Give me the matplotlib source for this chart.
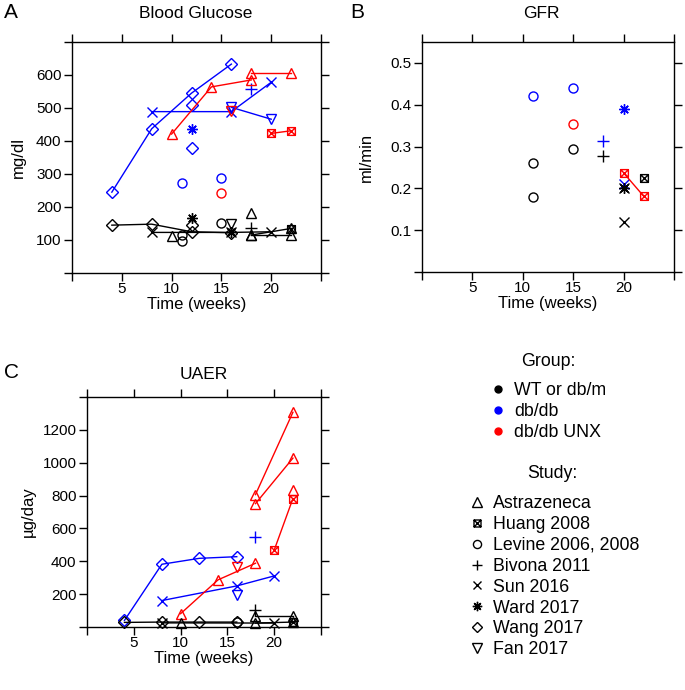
import matplotlib
matplotlib.use("Agg")
import matplotlib.pyplot as plt
from matplotlib.lines import Line2D
from matplotlib.path import Path

plt.rcParams["font.family"] = ["Liberation Sans", "DejaVu Sans"]

# boxed x marker (Huang 2008)
BOXX = Path([(-1, -1), (1, -1), (1, 1), (-1, 1), (-1, -1), (-1, -1), (1, 1), (-1, 1), (1, -1)],
            [1, 2, 2, 2, 79, 1, 2, 1, 2])

STUDIES = ["Astrazeneca", "Huang 2008", "Levine 2006, 2008", "Bivona 2011",
           "Sun 2016", "Ward 2017", "Wang 2017", "Fan 2017"]
MARKERS = {"Astrazeneca": "^", "Huang 2008": BOXX, "Levine 2006, 2008": "o",
           "Bivona 2011": "+", "Sun 2016": "x", "Ward 2017": (8, 2, 0),
           "Wang 2017": "D", "Fan 2017": "v"}
MSIZE = {"Astrazeneca": 7.5, "Huang 2008": 5.6, "Levine 2006, 2008": 6.5,
         "Bivona 2011": 8, "Sun 2016": 6.5, "Ward 2017": 7.5,
         "Wang 2017": 6.2, "Fan 2017": 7.5}
GROUPS = ["WT or db/m", "db/db", "db/db UNX"]
COLORS = {"WT or db/m": "black", "db/db": "#0000FF", "db/db UNX": "#FF0000"}

# (study, group, weeks, values) -- each tuple one line/point set
GLUCOSE = [
    ("Wang 2017", "db/db", [4, 8, 12, 16], [245, 437, 545, 633]),
    ("Wang 2017", "db/db", [12], [510]),
    ("Wang 2017", "db/db", [12], [378]),
    ("Sun 2016", "db/db", [8, 16, 20], [489, 489, 578]),
    ("Fan 2017", "db/db", [16, 20], [502, 466]),
    ("Bivona 2011", "db/db", [18], [557]),
    ("Ward 2017", "db/db", [12], [436]),
    ("Levine 2006, 2008", "db/db", [11], [272]),
    ("Levine 2006, 2008", "db/db", [15], [287]),
    ("Astrazeneca", "db/db UNX", [10, 14, 18], [421, 564, 585]),
    ("Astrazeneca", "db/db UNX", [18, 22], [605, 605]),
    ("Huang 2008", "db/db UNX", [20, 22], [423, 431]),
    ("Fan 2017", "db/db UNX", [16], [490]),
    ("Levine 2006, 2008", "db/db UNX", [15], [241]),
    ("Wang 2017", "WT or db/m", [4, 8, 12, 16], [145, 148, 125, 122]),
    ("Wang 2017", "WT or db/m", [12], [145]),
    ("Sun 2016", "WT or db/m", [8, 16, 20], [123, 123, 125]),
    ("Ward 2017", "WT or db/m", [12], [167]),
    ("Ward 2017", "WT or db/m", [16], [125]),
    ("Levine 2006, 2008", "WT or db/m", [11], [115]),
    ("Levine 2006, 2008", "WT or db/m", [11], [98]),
    ("Levine 2006, 2008", "WT or db/m", [15], [150]),
    ("Fan 2017", "WT or db/m", [16], [148]),
    ("Astrazeneca", "WT or db/m", [10], [113]),
    ("Astrazeneca", "WT or db/m", [18, 22], [115, 115]),
    ("Astrazeneca", "WT or db/m", [18, 22], [115, 135]),
    ("Astrazeneca", "WT or db/m", [18], [181]),
    ("Bivona 2011", "WT or db/m", [18], [135]),
    ("Huang 2008", "WT or db/m", [22], [132]),
]

GFR = [
    ("Levine 2006, 2008", "db/db", [11], [0.422]),
    ("Levine 2006, 2008", "db/db", [15], [0.440]),
    ("Bivona 2011", "db/db", [18], [0.313]),
    ("Ward 2017", "db/db", [20], [0.390]),
    ("Sun 2016", "db/db", [20], [0.210]),
    ("Levine 2006, 2008", "db/db UNX", [15], [0.354]),
    ("Huang 2008", "db/db UNX", [20, 22], [0.237, 0.181]),
    ("Levine 2006, 2008", "WT or db/m", [11], [0.261]),
    ("Levine 2006, 2008", "WT or db/m", [11], [0.179]),
    ("Levine 2006, 2008", "WT or db/m", [15], [0.295]),
    ("Bivona 2011", "WT or db/m", [18], [0.277]),
    ("Huang 2008", "WT or db/m", [22], [0.225]),
    ("Ward 2017", "WT or db/m", [20], [0.200]),
    ("Sun 2016", "WT or db/m", [20], [0.200]),
    ("Sun 2016", "WT or db/m", [20], [0.120]),
]

UAER = [
    ("Wang 2017", "db/db", [4, 8, 12, 16], [40, 382, 418, 428]),
    ("Sun 2016", "db/db", [8, 16, 20], [161, 250, 311]),
    ("Fan 2017", "db/db", [16], [192]),
    ("Bivona 2011", "db/db", [18], [549]),
    ("Astrazeneca", "db/db UNX", [10, 14, 18], [81, 287, 388]),
    ("Astrazeneca", "db/db UNX", [18, 22], [806, 1307]),
    ("Astrazeneca", "db/db UNX", [18, 22], [751, 1028]),
    ("Astrazeneca", "db/db UNX", [22], [832]),
    ("Huang 2008", "db/db UNX", [20, 22], [468, 782]),
    ("Fan 2017", "db/db UNX", [16], [367]),
    ("Wang 2017", "WT or db/m", [4, 8, 12, 16], [28, 30, 30, 30]),
    ("Sun 2016", "WT or db/m", [8, 20], [25, 24]),
    ("Astrazeneca", "WT or db/m", [10], [24]),
    ("Astrazeneca", "WT or db/m", [18, 22], [64, 64]),
    ("Astrazeneca", "WT or db/m", [18, 22], [24, 30]),
    ("Bivona 2011", "WT or db/m", [18], [105]),
    ("Levine 2006, 2008", "WT or db/m", [16], [30]),
    ("Huang 2008", "WT or db/m", [22], [30]),
]

W, H = 685, 690
fig = plt.figure(figsize=(W / 100, H / 100), dpi=100)

def box(l, t, r, b):
    return [l / W, 1 - b / H, (r - l) / W, (b - t) / H]

def panel(rect, data, ylim, yticks, ylabels, title, letter, ylab, ylab_x, tpos, lpos):
    ax = fig.add_axes(rect)
    for study, grp, xs, ys in data:
        ax.plot(xs, ys, color=COLORS[grp], lw=1, marker=MARKERS[study], ms=MSIZE[study],
                mfc="none", mew=1, clip_on=False)
    ax.set_xlim(0, 25)
    ax.set_ylim(*ylim)
    ax.set_xticks([0, 5, 10, 15, 20, 25])
    ax.set_xticklabels(["", "5", "10", "15", "20", ""])
    ax.set_yticks(yticks)
    ax.set_yticklabels(ylabels)
    ax.tick_params(direction="out", length=5.5, width=1, labelsize=11, top=True,
                   right=True)
    ax.tick_params(axis="x", pad=1)
    ax.tick_params(axis="y", pad=2)
    for s in ax.spines.values():
        s.set_linewidth(1)
    ax.set_xlabel("Time (weeks)", fontsize=12, labelpad=1)
    fig.text(tpos[0] / W, 1 - tpos[1] / H, title, fontsize=12.5, ha="center", va="center")
    fig.text(lpos[0] / W, 1 - lpos[1] / H, letter, fontsize=15, ha="left", va="center")
    fig.text(ylab_x / W, rect[1] + rect[3] / 2, ylab, fontsize=12, rotation=90,
             ha="center", va="center")
    return ax

panel(box(72, 42, 321, 273), GLUCOSE, (0, 700), range(0, 701, 100),
      [""] + [str(v) for v in range(100, 601, 100)] + [""],
      "Blood Glucose", "A", "mg/dl", 18, (196, 14), (4, 13))
panel(box(422, 42, 674, 272), GFR, (0, 0.55), [0, 0.1, 0.2, 0.3, 0.4, 0.5],
      ["", "0.1", "0.2", "0.3", "0.4", "0.5"],
      "GFR", "B", "ml/min", 366, (541, 14), (350, 13))
panel(box(87, 397, 321, 627), UAER, (0, 1400), range(0, 1401, 200),
      [""] + [str(v) for v in range(200, 1201, 200)] + [""],
      "UAER", "C", "\u00b5g/day", 28, (204, 374), (4, 373))

FS = 12.8
fig.text(548 / W, 1 - 361 / H, "Group:", fontsize=FS, ha="center", va="center")
fig.text(552 / W, 1 - 473 / H, "Study:", fontsize=FS, ha="center", va="center")

ghandles = [Line2D([], [], ls="none", marker="o", ms=5, color=COLORS[g]) for g in GROUPS]
fig.legend(ghandles, GROUPS, loc="upper left",
           bbox_to_anchor=(489 / W, 1 - 382 / H), frameon=False, fontsize=FS,
           handlelength=1.0, handletextpad=0.4, labelspacing=0.22,
           borderaxespad=0, borderpad=0)
shandles = [Line2D([], [], ls="none", marker=MARKERS[s], ms=MSIZE[s] * 0.9, mfc="none",
                   mew=1, color="black") for s in STUDIES]
fig.legend(shandles, STUDIES, loc="upper left",
           bbox_to_anchor=(468 / W, 1 - 495 / H), frameon=False, fontsize=FS,
           handlelength=1.0, handletextpad=0.4, labelspacing=0.22,
           borderaxespad=0, borderpad=0)

fig.savefig("out.png", dpi=100)
